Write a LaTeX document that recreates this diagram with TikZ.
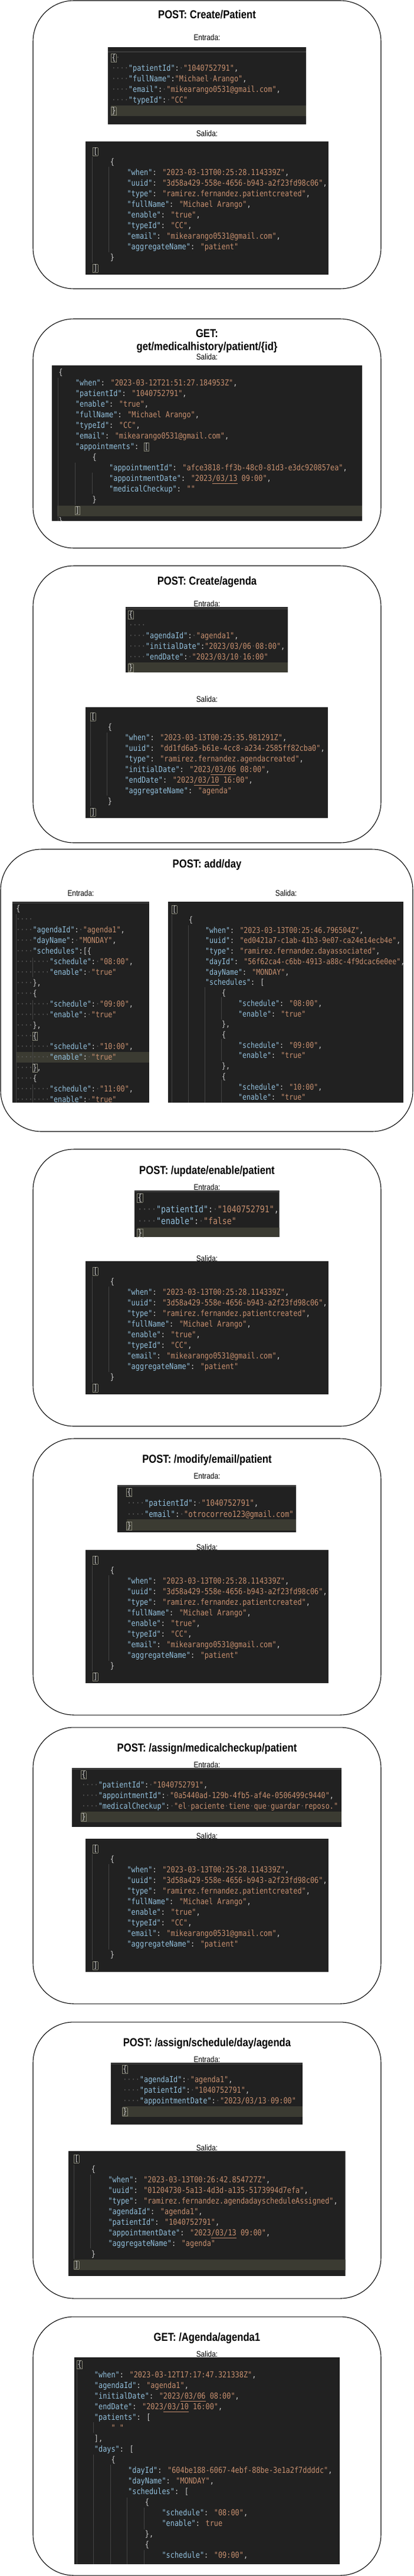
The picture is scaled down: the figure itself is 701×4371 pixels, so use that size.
\documentclass[tikz,border=0pt]{standalone}
\usepackage{fontspec}
\newfontfamily\labfont{Liberation Sans}[FakeStretch=0.85]
\newfontfamily\codefont{DejaVu Sans Mono}[FakeStretch=0.85]
\definecolor{cbg}{HTML}{212121}
\definecolor{hlc}{HTML}{3B3B32}
\definecolor{keyc}{HTML}{93C1DE}
\definecolor{strc}{HTML}{C8906F}
\definecolor{punc}{HTML}{CCCCCC}
\definecolor{dotc}{HTML}{5A5A5A}
\definecolor{guidec}{HTML}{444444}
\definecolor{boxc}{HTML}{8A8A7A}
\definecolor{toplc}{HTML}{3C3C3C}
\newcommand\jk[1]{\textcolor{keyc}{"#1"}}
\newcommand\js[1]{\textcolor{strc}{"#1"}}
\newcommand\jd{\textcolor{dotc}{·}}
\newcommand\jdd{\textcolor{dotc}{····}}
\newcommand\jI{\phantom{0000}}
\newcommand\jb[1]{\makebox[0pt][l]{\hspace{-0.7pt}\textcolor{boxc}{\setlength\fboxsep{0.2pt}\setlength\fboxrule{0.5pt}\fbox{\phantom{#1}}}}#1}
\tikzset{
  secbox/.style={draw=black, line width=0.8pt, rounded corners=52pt},
  ttl/.style={font=\labfont\bfseries\fontsize{14.7pt}{17pt}\selectfont, inner sep=0, anchor=base},
  lbl/.style={font=\labfont\fontsize{10.5pt}{12pt}\selectfont, inner sep=0, anchor=base},
  hl/.style={fill=hlc},
  guide/.style={draw=guidec, line width=0.6pt},
  topln/.style={draw=toplc, line width=0.9pt},
  codeblk/.style 2 args={anchor=north west, inner sep=0, text=punc, font=\codefont\fontsize{#1}{#2}\selectfont},
}
\newcommand\PatOut[1]{%
  \begin{scope}
    \clip (145,240) rectangle (557,466);
    \fill[cbg] (145,240) rectangle (557,466);
    \draw[guide] (156,266) -- (156,446);
    \draw[guide] (184,283) -- (184,428);
    \node[codeblk={10.5pt}{13.5pt}] (#1) at (158,249) {\begin{tabular}{@{}l@{}}
\jb{[}\\
\jI\{\\
\jI\jI\jk{when}: \js{2023-03-13T00:25:28.114339Z},\\
\jI\jI\jk{uuid}: \js{3d58a429-558e-4656-b943-a2f23fd98c06},\\
\jI\jI\jk{type}: \js{ramirez.fernandez.patientcreated},\\
\jI\jI\jk{fullName}: \js{Michael Arango},\\
\jI\jI\jk{enable}: \js{true},\\
\jI\jI\jk{typeId}: \js{CC},\\
\jI\jI\jk{email}: \js{mikearango0531@gmail.com},\\
\jI\jI\jk{aggregateName}: \js{patient}\\
\jI\}\\
\jb{]}
\end{tabular}};
  \end{scope}}
\begin{document}
\begin{tikzpicture}[x=0.75pt,y=-0.75pt]
\useasboundingbox (0,0) rectangle (701,4371);
\fill[white] (0,0) rectangle (701,4371);

% ---------------- Section 1
\draw[secbox] (56,1) rectangle (646,490);
\node[ttl] (t1) at (351,32) {POST: Create/Patient};
\node[lbl] (e1) at (351,69) {Entrada:};
\begin{scope}
  \clip (183,80) rectangle (519,211);
  \fill[cbg] (183,80) rectangle (519,211);
  \draw[topln] (183,88) -- (519,88);
  \fill[hl] (188,179) rectangle (519,197);
  \node[codeblk={10.5pt}{13.5pt}] (c1in) at (189,90) {\begin{tabular}{@{}l@{}}
\jb{\{}\jd\\
\jdd\jk{patientId}:\jd\js{1040752791},\\
\jdd\jk{fullName}:\js{Michael\jd Arango},\\
\jdd\jk{email}:\jd\js{mikearango0531@gmail.com},\\
\jdd\jk{typeId}:\jd\js{CC}\\
\jb{\}}
\end{tabular}};
\end{scope}
\node[lbl] (s1) at (351,231) {Salida:};
\PatOut{c1out}

% ---------------- Section 2
\draw[secbox] (56,541) rectangle (646,930);
\node[ttl] (t2a) at (351,572) {GET:};
\node[ttl] (t2b) at (351,594) {get/medicalhistory/patient/\{id\}};
\node[lbl] (s2) at (351,610) {Salida:};
\begin{scope}
  \clip (88,620) rectangle (614,884);
  \fill[cbg] (88,620) rectangle (614,884);
  \fill[hl] (97,858) rectangle (614,876);
  \draw[guide] (98,641) -- (98,884);
  \draw[guide] (127,785) -- (127,857);
  \draw[guide] (156,802) -- (156,838);
  \node[codeblk={10.5pt}{13.5pt}] (c2out) at (99,624) {\begin{tabular}{@{}l@{}}
\{\\
\jI\jk{when}: \js{2023-03-12T21:51:27.184953Z},\\
\jI\jk{patientId}: \js{1040752791},\\
\jI\jk{enable}: \js{true},\\
\jI\jk{fullName}: \js{Michael Arango},\\
\jI\jk{typeId}: \js{CC},\\
\jI\jk{email}: \js{mikearango0531@gmail.com},\\
\jI\jk{appointments}: \jb{[}\\
\jI\jI\{\\
\jI\jI\jI\jk{appointmentId}: \js{afce3818-ff3b-48c0-81d3-e3dc920857ea},\\
\jI\jI\jI\jk{appointmentDate}: \js{2023\underline{/03/13} 09:00},\\
\jI\jI\jI\jk{medicalCheckup}: \js{}\\
\jI\jI\}\\
\jI\jb{]}\\
\}
\end{tabular}};
\end{scope}

% ---------------- Section 3
\draw[secbox] (56,960) rectangle (646,1430);
\node[ttl] (t3) at (351,992) {POST: Create/agenda};
\node[lbl] (e3) at (351,1029) {Entrada:};
\begin{scope}
  \clip (213,1030) rectangle (488,1141);
  \fill[cbg] (213,1030) rectangle (488,1141);
  \draw[topln] (213,1033) -- (488,1033);
  \fill[hl] (218,1124) rectangle (488,1141);
  \node[codeblk={10.5pt}{13.5pt}] (c3in) at (218,1035) {\begin{tabular}{@{}l@{}}
\jb{\{}\\
\jdd\\
\jdd\jk{agendaId}:\jd\js{agenda1},\\
\jdd\jk{initialDate}:\js{2023/03/06\jd 08:00},\\
\jdd\jk{endDate}:\jd\js{2023/03/10\jd 16:00}\\
\jb{\}}
\end{tabular}};
\end{scope}
\node[lbl] (s3) at (351,1191) {Salida:};
\begin{scope}
  \clip (145,1200) rectangle (556,1388);
  \fill[cbg] (145,1200) rectangle (556,1388);
  \draw[guide] (153,1224) -- (153,1368);
  \draw[guide] (181,1243) -- (181,1350);
  \node[codeblk={10.5pt}{13.5pt}] (c3out) at (154,1208) {\begin{tabular}{@{}l@{}}
\jb{[}\\
\jI\{\\
\jI\jI\jk{when}: \js{2023-03-13T00:25:35.981291Z},\\
\jI\jI\jk{uuid}: \js{dd1fd6a5-b61e-4cc8-a234-2585ff82cba0},\\
\jI\jI\jk{type}: \js{ramirez.fernandez.agendacreated},\\
\jI\jI\jk{initialDate}: \js{2023\underline{/03/06} 08:00},\\
\jI\jI\jk{endDate}: \js{2023\underline{/03/10} 16:00},\\
\jI\jI\jk{aggregateName}: \js{agenda}\\
\jI\}\\
\jb{]}
\end{tabular}};
\end{scope}

% ---------------- Section 4
\draw[secbox] (1,1441) rectangle (700,1920);
\node[ttl] (t4) at (351,1472) {POST: add/day};
\node[lbl] (e4) at (137,1520) {Entrada:};
\node[lbl] (s4) at (485,1520) {Salida:};
\begin{scope}
  \clip (21,1530) rectangle (253,1871);
  \fill[cbg] (21,1530) rectangle (253,1871);
  \draw[topln] (21,1532) -- (253,1532);
  \fill[hl] (27,1785) rectangle (253,1803);
  \draw[guide] (27,1551) -- (27,1871);
  \draw[guide] (55,1625) -- (55,1658);
  \draw[guide] (55,1697) -- (55,1730);
  \draw[guide] (55,1768) -- (55,1805);
  \draw[guide] (55,1840) -- (55,1871);
  \node[codeblk={10.4pt}{13.5pt}] (c4in) at (27,1534) {\begin{tabular}{@{}l@{}}
\{\\
\jdd\\
\jdd\jk{agendaId}:\jd\js{agenda1},\\
\jdd\jk{dayName}:\jd\js{MONDAY},\\
\jdd\jk{schedules}:[\{\\
\jdd\jdd\jk{schedule}:\jd\js{08:00},\\
\jdd\jdd\jk{enable}:\jd\js{true}\\
\jdd\},\\
\jdd\{\\
\jdd\jdd\jk{schedule}:\jd\js{09:00},\\
\jdd\jdd\jk{enable}:\jd\js{true}\\
\jdd\},\\
\jdd\jb{\{}\\
\jdd\jdd\jk{schedule}:\jd\js{10:00},\\
\jdd\jdd\jk{enable}:\jd\js{true}\\
\jdd\jb{\}},\\
\jdd\{\\
\jdd\jdd\jk{schedule}:\jd\js{11:00},\\
\jdd\jdd\jk{enable}:\jd\js{true}
\end{tabular}};
\end{scope}
\begin{scope}
  \clip (285,1530) rectangle (684,1871);
  \fill[cbg] (285,1530) rectangle (684,1871);
  \draw[guide] (291,1552) -- (291,1871);
  \draw[guide] (319,1570) -- (319,1871);
  \draw[guide] (347,1675) -- (347,1871);
  \draw[guide] (375,1692) -- (375,1730);
  \draw[guide] (375,1763) -- (375,1800);
  \draw[guide] (375,1832) -- (375,1871);
  \node[codeblk={10.25pt}{13.3pt}] (c4out) at (292,1535) {\begin{tabular}{@{}l@{}}
\jb{[}\\
\jI\{\\
\jI\jI\jk{when}: \js{2023-03-13T00:25:46.796504Z},\\
\jI\jI\jk{uuid}: \js{ed0421a7-c1ab-41b3-9e07-ca24e14ecb4e},\\
\jI\jI\jk{type}: \js{ramirez.fernandez.dayassociated},\\
\jI\jI\jk{dayId}: \js{56f62ca4-c6bb-4913-a88c-4f9dcac6e0ee},\\
\jI\jI\jk{dayName}: \js{MONDAY},\\
\jI\jI\jk{schedules}: [\\
\jI\jI\jI\{\\
\jI\jI\jI\jI\jk{schedule}: \js{08:00},\\
\jI\jI\jI\jI\jk{enable}: \js{true}\\
\jI\jI\jI\},\\
\jI\jI\jI\{\\
\jI\jI\jI\jI\jk{schedule}: \js{09:00},\\
\jI\jI\jI\jI\jk{enable}: \js{true}\\
\jI\jI\jI\},\\
\jI\jI\jI\{\\
\jI\jI\jI\jI\jk{schedule}: \js{10:00},\\
\jI\jI\jI\jI\jk{enable}: \js{true}
\end{tabular}};
\end{scope}

% ---------------- Section 5
\draw[secbox] (56,1950) rectangle (646,2420);
\node[ttl] (t5) at (351,1992) {POST: /update/enable/patient};
\node[lbl] (e5) at (351,2019) {Entrada:};
\begin{scope}
  \clip (227.5,2020) rectangle (473.5,2099);
  \fill[cbg] (227.5,2020) rectangle (473.5,2099);
  \draw[topln] (227.5,2022) -- (473.5,2022);
  \fill[hl] (233,2083) rectangle (473.5,2099);
  \node[codeblk={11.7pt}{15pt}] (c5in) at (233,2023) {\begin{tabular}{@{}l@{}}
\jb{\{}\\
\jdd\jk{patientId}:\jd\js{1040752791},\\
\jdd\jk{enable}:\jd\js{false}\\
\jb{\}}
\end{tabular}};
\end{scope}
\node[lbl] (s5) at (351,2140) {Salida:};
\begin{scope}[shift={(0,1900)}]
  \PatOut{c5out}
\end{scope}

% ---------------- Section 6
\draw[secbox] (56,2441) rectangle (646,2910);
\node[ttl] (t6) at (351,2482) {POST: /modify/email/patient};
\node[lbl] (e6) at (351,2509) {Entrada:};
\begin{scope}
  \clip (199,2520) rectangle (502,2600);
  \fill[cbg] (199,2520) rectangle (502,2600);
  \draw[topln] (199,2522) -- (502,2522);
  \fill[hl] (215,2578) rectangle (502,2597);
  \node[codeblk={10.9pt}{14.25pt}] (c6in) at (215,2523) {\begin{tabular}{@{}l@{}}
\jb{\{}\\
\jdd\jk{patientId}:\jd\js{1040752791},\\
\jdd\jk{email}:\jd\js{otrocorreo123@gmail.com}\\
\jb{\}}
\end{tabular}};
\end{scope}
\node[lbl] (s6) at (351,2630) {Salida:};
\begin{scope}[shift={(0,2390)}]
  \PatOut{c6out}
\end{scope}

% ---------------- Section 7
\draw[secbox] (56,2931) rectangle (646,3400);
\node[ttl] (t7) at (351,2972) {POST: /assign/medicalcheckup/patient};
\node[lbl] (e7) at (351,2999) {Entrada:};
\begin{scope}
  \clip (122,3000) rectangle (579,3100);
  \fill[cbg] (122,3000) rectangle (579,3100);
  \draw[topln] (122,3002) -- (579,3002);
  \fill[hl] (138,3074) rectangle (579,3092);
  \node[codeblk={10.45pt}{13.5pt}] (c7in) at (138,3003) {\begin{tabular}{@{}l@{}}
\jb{\{}\\
\jdd\jk{patientId}:\jd\js{1040752791},\\
\jdd\jk{appointmentId}:\jd\js{0a5440ad-129b-4fb5-af4e-0506499c9440},\\
\jdd\jk{medicalCheckup}:\jd\js{el\jd paciente\jd tiene\jd que\jd guardar\jd reposo.}\\
\jb{\}}
\end{tabular}};
\end{scope}
\node[lbl] (s7) at (351,3120) {Salida:};
\begin{scope}[shift={(0,2880)}]
  \PatOut{c7out}
\end{scope}

% ---------------- Section 8
\draw[secbox] (56,3431) rectangle (646,3900);
\node[ttl] (t8) at (351,3472) {POST: /assign/schedule/day/agenda};
\node[lbl] (e8) at (351,3499) {Entrada:};
\begin{scope}
  \clip (188,3500) rectangle (513,3605);
  \fill[cbg] (188,3500) rectangle (513,3605);
  \draw[topln] (188,3502) -- (513,3502);
  \fill[hl] (208,3574) rectangle (513,3592);
  \node[codeblk={10.5pt}{13.5pt}] (c8in) at (208,3503) {\begin{tabular}{@{}l@{}}
\jb{\{}\\
\jdd\jk{agendaId}:\jd\js{agenda1},\\
\jdd\jk{patientId}:\jd\js{1040752791},\\
\jdd\jk{appointmentDate}:\jd\js{2023/03/13\jd 09:00}\\
\jb{\}}
\end{tabular}};
\end{scope}
\node[lbl] (s8) at (351,3649) {Salida:};
\begin{scope}
  \clip (115.5,3650) rectangle (585.5,3862);
  \fill[cbg] (115.5,3650) rectangle (585.5,3862);
  \fill[hl] (126,3834) rectangle (585.5,3852);
  \draw[guide] (125,3673) -- (125,3833);
  \draw[guide] (153,3690) -- (153,3815);
  \node[codeblk={10.5pt}{13.5pt}] (c8out) at (126,3655) {\begin{tabular}{@{}l@{}}
\jb{[}\\
\jI\{\\
\jI\jI\jk{when}: \js{2023-03-13T00:26:42.854727Z},\\
\jI\jI\jk{uuid}: \js{01204730-5a13-4d3d-a135-5173994d7efa},\\
\jI\jI\jk{type}: \js{ramirez.fernandez.agendadayscheduleAssigned},\\
\jI\jI\jk{agendaId}: \js{agenda1},\\
\jI\jI\jk{patientId}: \js{1040752791},\\
\jI\jI\jk{appointmentDate}: \js{2023\underline{/03/13} 09:00},\\
\jI\jI\jk{aggregateName}: \js{agenda}\\
\jI\}\\
\jb{]}
\end{tabular}};
\end{scope}

% ---------------- Section 9
\draw[secbox] (56,3931) rectangle (646,4370);
\node[ttl] (t9) at (351,3972) {GET: /Agenda/agenda1};
\node[lbl] (s9) at (351,3999) {Salida:};
\begin{scope}
  \clip (126,4000) rectangle (576,4351);
  \fill[cbg] (126,4000) rectangle (576,4351);
  \draw[guide] (130,4020) -- (130,4351);
  \draw[guide] (158,4110) -- (158,4128);
  \draw[guide] (158,4165) -- (158,4351);
  \draw[guide] (187,4182) -- (187,4351);
  \draw[guide] (215,4238) -- (215,4351);
  \draw[guide] (244,4255) -- (244,4292);
  \draw[guide] (244,4327) -- (244,4351);
  \node[codeblk={10.5pt}{13.5pt}] (c9out) at (131,4004) {\begin{tabular}{@{}l@{}}
\jb{\{}\\
\jI\jk{when}: \js{2023-03-12T17:17:47.321338Z},\\
\jI\jk{agendaId}: \js{agenda1},\\
\jI\jk{initialDate}: \js{2023\underline{/03/06} 08:00},\\
\jI\jk{endDate}: \js{2023\underline{/03/10} 16:00},\\
\jI\jk{patients}: [\\
\jI\jI\textcolor{strc}{" "}\\
\jI],\\
\jI\jk{days}: [\\
\jI\jI\{\\
\jI\jI\jI\jk{dayId}: \js{604be188-6067-4ebf-88be-3e1a2f7ddddc},\\
\jI\jI\jI\jk{dayName}: \js{MONDAY},\\
\jI\jI\jI\jk{schedules}: [\\
\jI\jI\jI\jI\{\\
\jI\jI\jI\jI\jI\jk{schedule}: \js{08:00},\\
\jI\jI\jI\jI\jI\jk{enable}: \textcolor{strc}{true}\\
\jI\jI\jI\jI\},\\
\jI\jI\jI\jI\{\\
\jI\jI\jI\jI\jI\jk{schedule}: \js{09:00},
\end{tabular}};
\end{scope}
\end{tikzpicture}
\end{document}
